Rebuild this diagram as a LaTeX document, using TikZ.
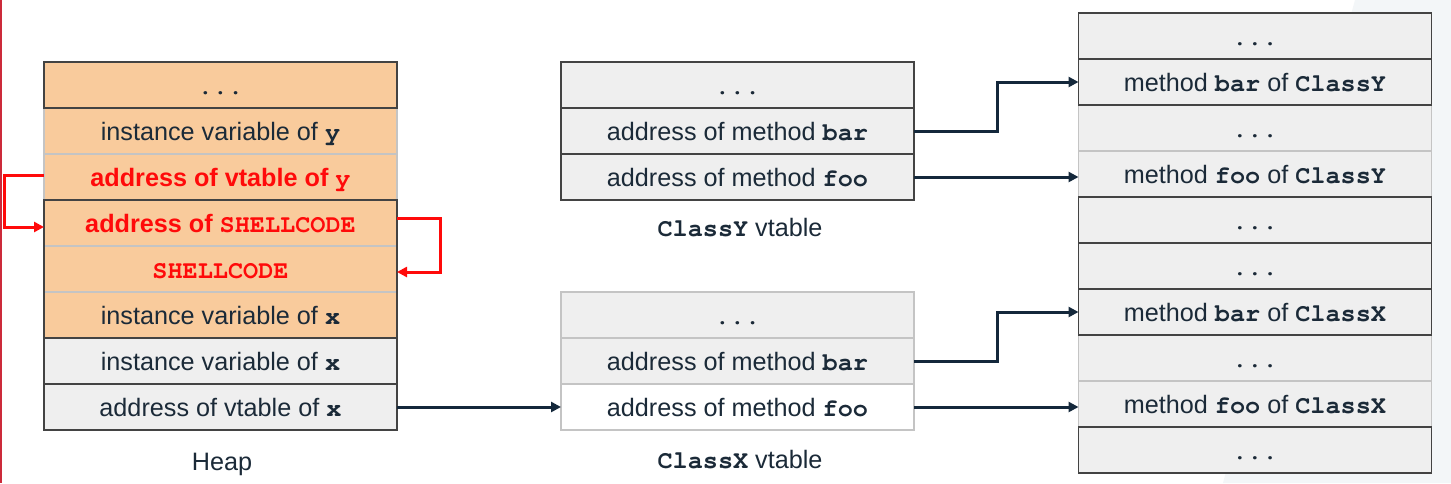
\documentclass[tikz,border=0pt]{standalone}
\usepackage{fontspec}
\setmainfont{Liberation Sans}
\setmonofont{texgyrecursor}[Extension=.otf, UprightFont=*-regular, BoldFont=*-bold]
\usetikzlibrary{arrows.meta}
\definecolor{txt}{HTML}{1B2A38}
\definecolor{arrowc}{HTML}{14283B}
\definecolor{redc}{HTML}{FF0A0A}
\definecolor{slidered}{HTML}{CC2A3A}
\definecolor{orangef}{HTML}{F9CB9C}
\definecolor{grayf}{HTML}{EFEFEF}
\definecolor{darkln}{HTML}{434343}
\definecolor{lightln}{HTML}{C4C4C4}
\definecolor{bgr}{HTML}{F3F6F8}
\newcommand{\mcode}[1]{{\ttfamily\bfseries #1}}
\begin{document}
\begin{tikzpicture}[x=1pt,y=-1pt,
  cell/.style={minimum width=353pt, minimum height=46pt, inner sep=0pt, outer sep=0pt,
    text height=18pt, text depth=0pt, draw=lightln, line width=1.2pt,
    font=\fontsize{25.2}{29}\selectfont, text=txt},
  orangecell/.style={cell, fill=orangef},
  graycell/.style={cell, fill=grayf},
  whitecell/.style={cell, fill=white},
  redtext/.style={text=redc, font=\fontsize{25.2}{29}\selectfont\bfseries},
  darkbox/.style={draw=darkln, line width=1.3pt},
  caption/.style={font=\fontsize{25.2}{29}\selectfont, text=txt, inner sep=0pt, text height=18pt, text depth=0pt},
  conn/.style={line width=3pt, draw=arrowc, -{Triangle[length=10pt,width=10pt]}},
  redconn/.style={line width=3pt, draw=redc, -{Triangle[length=10pt,width=10pt]}}
]
\useasboundingbox (0,0) rectangle (1451,483);
\fill[white] (0,0) rectangle (1451,483);
\fill[bgr] (1355,0) -- (1451,0) -- (1451,483) -- (1223,483) -- cycle;
\draw[slidered, line width=2pt] (1,0) -- (1,483);

% Heap
\node[orangecell] (h1) at (220.5,85) {\mcode{...}};
\node[orangecell] (h2) at (220.5,131) {instance variable of \mcode{y}};
\node[orangecell, redtext] (h3) at (220.5,177) {address of vtable of \mcode{y}};
\node[orangecell, redtext] (h4) at (220.5,223) {address of \mcode{SHELLCODE}};
\node[orangecell, redtext] (h5) at (220.5,269) {\mcode{SHELLCODE}};
\node[orangecell] (h6) at (220.5,315) {instance variable of \mcode{x}};
\node[graycell] (h7) at (220.5,361) {instance variable of \mcode{x}};
\node[graycell] (h8) at (220.5,407) {address of vtable of \mcode{x}};
\draw[darkbox] (h1.north west) rectangle (h1.south east);
\draw[darkbox] (h4.north west) rectangle (h6.south east);
\draw[darkbox] (h7.north west) rectangle (h7.south east);
\draw[darkbox] (h8.north west) rectangle (h8.south east);
\node[caption] (heap) at (222,461) {Heap};

% ClassY vtable
\node[graycell] (vy1) at (737.5,85) {\mcode{...}};
\node[graycell] (vy2) at (737.5,131) {address of method \mcode{bar}};
\node[graycell] (vy3) at (737.5,177) {address of method \mcode{foo}};
\draw[darkbox] (vy1.north west) rectangle (vy1.south east);
\draw[darkbox] (vy2.north west) rectangle (vy2.south east);
\draw[darkbox] (vy3.north west) rectangle (vy3.south east);
\node[caption] (cy) at (740,227.5) {\mcode{ClassY} vtable};

% ClassX vtable
\node[graycell] (vx1) at (737.5,315) {\mcode{...}};
\node[graycell] (vx2) at (737.5,361) {address of method \mcode{bar}};
\node[whitecell] (vx3) at (737.5,407) {address of method \mcode{foo}};
\node[caption] (cx) at (740,459.5) {\mcode{ClassX} vtable};

% Methods column
\begin{scope}[every node/.append style={minimum width=354pt}]
\node[graycell] (r1) at (1255,36) {\mcode{...}};
\node[graycell] (r2) at (1255,82) {method \mcode{bar} of \mcode{ClassY}};
\node[graycell] (r3) at (1255,128) {\mcode{...}};
\node[graycell] (r4) at (1255,174) {method \mcode{foo} of \mcode{ClassY}};
\node[graycell] (r5) at (1255,220) {\mcode{...}};
\node[graycell] (r6) at (1255,266) {\mcode{...}};
\node[graycell] (r7) at (1255,312) {method \mcode{bar} of \mcode{ClassX}};
\node[graycell] (r8) at (1255,358) {\mcode{...}};
\node[graycell] (r9) at (1255,404) {method \mcode{foo} of \mcode{ClassX}};
\node[graycell] (r10) at (1255,450) {\mcode{...}};
\end{scope}
\foreach \r in {r1,r2,r5,r6,r7,r10}
  \draw[darkbox] (\r.north west) rectangle (\r.south east);

% Connectors
\draw[conn] (vy2.east) -- ++(83,0) |- (r2.west);
\draw[conn] (vy3.east) -- (vy3.east -| r4.west);
\draw[conn] (vx2.east) -- ++(83,0) |- (r7.west);
\draw[conn] (vx3.east) -- (vx3.east -| r9.west);
\draw[conn] (h8.east) -- (vx3.west);

\draw[redconn] ([yshift=2pt]h3.west) -- ++(-40,0) |- ([yshift=-4pt]h4.west);
\draw[redconn] ([yshift=5pt]h4.east) -- ++(43,0) |- ([yshift=-3pt]h5.east);
\end{tikzpicture}
\end{document}
